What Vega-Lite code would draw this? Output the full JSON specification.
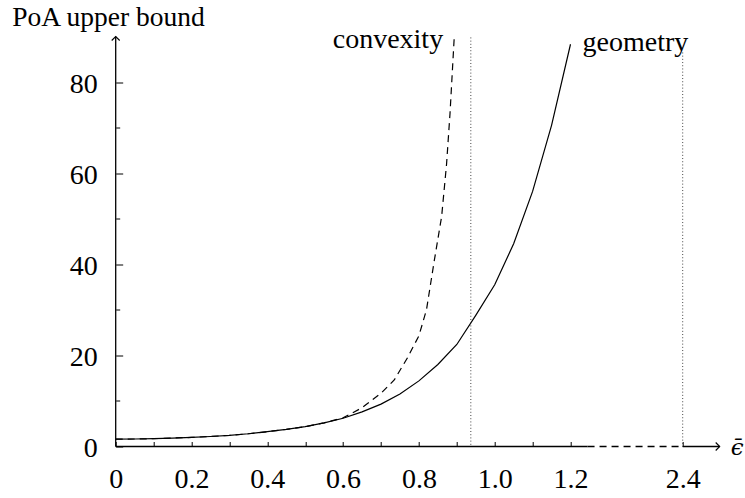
{
  "$schema": "https://vega.github.io/schema/vega-lite/v6.json",
  "width": 604,
  "height": 410,
  "autosize": {"type": "none"},
  "padding": {"left": 115.7, "top": 36.5, "right": 25.3, "bottom": 51.5},
  "background": "white",
  "config": {
    "view": {"stroke": null},
    "font": "'Liberation Serif', 'Times New Roman', 'DejaVu Serif', serif",
    "text": {"font": "'Liberation Serif', 'Times New Roman', 'DejaVu Serif', serif", "fontSize": 28, "color": "black"}
  },
  "datasets": {
    "geometry": [
      {"eps": 0.0, "bound": 1.6},
      {"eps": 0.05, "bound": 1.65},
      {"eps": 0.1, "bound": 1.72},
      {"eps": 0.15, "bound": 1.85},
      {"eps": 0.2, "bound": 2.0},
      {"eps": 0.25, "bound": 2.2},
      {"eps": 0.3, "bound": 2.45},
      {"eps": 0.35, "bound": 2.8},
      {"eps": 0.4, "bound": 3.25},
      {"eps": 0.45, "bound": 3.75},
      {"eps": 0.5, "bound": 4.35},
      {"eps": 0.55, "bound": 5.2},
      {"eps": 0.6, "bound": 6.2},
      {"eps": 0.65, "bound": 7.6},
      {"eps": 0.7, "bound": 9.3},
      {"eps": 0.75, "bound": 11.5},
      {"eps": 0.8, "bound": 14.4},
      {"eps": 0.85, "bound": 18.0},
      {"eps": 0.9, "bound": 22.4},
      {"eps": 0.95, "bound": 28.8},
      {"eps": 1.0, "bound": 35.5},
      {"eps": 1.05, "bound": 44.5},
      {"eps": 1.1, "bound": 56.0},
      {"eps": 1.15, "bound": 70.5},
      {"eps": 1.2, "bound": 88.3}
    ],
    "convexity": [
      {"eps": 0.0, "bound": 1.6},
      {"eps": 0.05, "bound": 1.65},
      {"eps": 0.1, "bound": 1.72},
      {"eps": 0.15, "bound": 1.85},
      {"eps": 0.2, "bound": 2.0},
      {"eps": 0.25, "bound": 2.2},
      {"eps": 0.3, "bound": 2.45},
      {"eps": 0.35, "bound": 2.8},
      {"eps": 0.4, "bound": 3.25},
      {"eps": 0.45, "bound": 3.75},
      {"eps": 0.5, "bound": 4.35},
      {"eps": 0.55, "bound": 5.2},
      {"eps": 0.6, "bound": 6.3},
      {"eps": 0.65, "bound": 8.5},
      {"eps": 0.7, "bound": 11.7},
      {"eps": 0.735, "bound": 14.6},
      {"eps": 0.77, "bound": 19.5},
      {"eps": 0.8, "bound": 24.3},
      {"eps": 0.82, "bound": 30.0},
      {"eps": 0.84, "bound": 40.5},
      {"eps": 0.86, "bound": 50.5},
      {"eps": 0.873, "bound": 62.0},
      {"eps": 0.882, "bound": 73.0},
      {"eps": 0.893, "bound": 89.5}
    ],
    "thresholds": [
      {"eps": 0.937, "bound": 89.8},
      {"eps": 2.4, "bound": 86.5}
    ],
    "x_axis_solid": [
      {"eps": 0, "eps_end": 1.245},
      {"eps": 2.4, "eps_end": 2.5}
    ],
    "x_axis_break": [
      {"eps": 1.245, "eps_end": 2.4}
    ],
    "y_axis_line": [
      {"eps": 0, "bound": 0, "bound_end": 90}
    ],
    "y_tip": [{"eps": 0, "bound": 90}],
    "x_tip": [{"eps": 2.5, "bound": 0}],
    "curve_names": [
      {"name": "convexity", "eps": 0.893, "bound": 89.5},
      {"name": "geometry", "eps": 1.2, "bound": 88.3}
    ]
  },
  "layer": [
    {
      "data": {"name": "geometry"},
      "mark": {"type": "line", "color": "black", "strokeWidth": 1.2},
      "encoding": {
        "x": {
          "field": "eps",
          "type": "quantitative",
          "scale": {"domain": [0, 1.25, 2.4, 2.5], "range": [0, 473.75, 567, 604], "nice": false, "zero": false},
          "axis": {
            "title": null,
            "values": [0, 0.1, 0.2, 0.3, 0.4, 0.5, 0.6, 0.7, 0.8, 0.9, 1.0, 1.1, 1.2, 2.4],
            "domain": false,
            "grid": false,
            "tickSize": -5,
            "tickColor": "black",
            "tickWidth": 1,
            "labelExpr": "datum.value == 0 ? '0' : (round(datum.value * 10) % 2 == 0 ? format(datum.value, '.1f') : '')",
            "labelFont": "'Liberation Serif', 'Times New Roman', 'DejaVu Serif', serif",
            "labelFontSize": 28,
            "labelColor": "black",
            "labelPadding": 23.7,
            "labelFlush": false,
            "labelOverlap": false
          }
        },
        "y": {
          "field": "bound",
          "type": "quantitative",
          "scale": {"domain": [0, 90], "nice": false, "zero": true},
          "axis": {
            "title": "PoA upper bound",
            "titleAngle": 0,
            "titleAlign": "left",
            "titleBaseline": "alphabetic",
            "titleX": -104,
            "titleY": -11.5,
            "titleFont": "'Liberation Serif', 'Times New Roman', 'DejaVu Serif', serif",
            "titleFontSize": 27.5,
            "titleFontWeight": "normal",
            "titleColor": "black",
            "values": [0, 10, 20, 30, 40, 50, 60, 70, 80],
            "domain": false,
            "grid": false,
            "tickSize": {"condition": {"test": "datum.value % 20 == 0", "value": -7}, "value": -4},
            "tickColor": "black",
            "tickWidth": 1,
            "labelExpr": "datum.value % 20 == 0 ? datum.label : ''",
            "labelFont": "'Liberation Serif', 'Times New Roman', 'DejaVu Serif', serif",
            "labelFontSize": 28,
            "labelColor": "black",
            "labelPadding": 25.4,
            "labelOffset": 2,
            "labelFlush": false,
            "labelOverlap": false
          }
        }
      }
    },
    {
      "data": {"name": "convexity"},
      "mark": {"type": "line", "color": "black", "strokeWidth": 1.2, "strokeDash": [7, 5]},
      "encoding": {
        "x": {"field": "eps", "type": "quantitative"},
        "y": {"field": "bound", "type": "quantitative"}
      }
    },
    {
      "data": {"name": "thresholds"},
      "mark": {"type": "rule", "color": "#444", "strokeWidth": 1, "strokeDash": [1, 2.2]},
      "encoding": {
        "x": {"field": "eps", "type": "quantitative"},
        "y": {"field": "bound", "type": "quantitative"},
        "y2": {"datum": 0}
      }
    },
    {
      "data": {"name": "x_axis_solid"},
      "mark": {"type": "rule", "color": "black", "strokeWidth": 1.3},
      "encoding": {
        "x": {"field": "eps", "type": "quantitative"},
        "x2": {"field": "eps_end"},
        "y": {"datum": 0, "type": "quantitative"}
      }
    },
    {
      "data": {"name": "x_axis_break"},
      "mark": {"type": "rule", "color": "black", "strokeWidth": 1.3, "strokeDash": [7, 5]},
      "encoding": {
        "x": {"field": "eps", "type": "quantitative"},
        "x2": {"field": "eps_end"},
        "y": {"datum": 0, "type": "quantitative"}
      }
    },
    {
      "data": {"name": "y_axis_line"},
      "mark": {"type": "rule", "color": "black", "strokeWidth": 1.3},
      "encoding": {
        "x": {"field": "eps", "type": "quantitative"},
        "y": {"field": "bound", "type": "quantitative"},
        "y2": {"field": "bound_end"}
      }
    },
    {
      "data": {"name": "y_tip"},
      "mark": {"type": "point", "shape": "M-1,1L0,0L1,1", "filled": false, "stroke": "black", "strokeWidth": 1.1, "size": 64, "opacity": 1},
      "encoding": {
        "x": {"field": "eps", "type": "quantitative"},
        "y": {"field": "bound", "type": "quantitative"}
      }
    },
    {
      "data": {"name": "x_tip"},
      "mark": {"type": "point", "shape": "M-1,-1L0,0L-1,1", "filled": false, "stroke": "black", "strokeWidth": 1.1, "size": 64, "opacity": 1},
      "encoding": {
        "x": {"field": "eps", "type": "quantitative"},
        "y": {"field": "bound", "type": "quantitative"}
      }
    },
    {
      "data": {"name": "x_tip"},
      "mark": {"type": "text", "text": "ϵ̄", "font": "'DejaVu Serif', serif", "fontStyle": "italic", "fontSize": 23, "align": "left", "baseline": "alphabetic", "dx": 11, "dy": 8.5, "color": "black"},
      "encoding": {
        "x": {"field": "eps", "type": "quantitative"},
        "y": {"field": "bound", "type": "quantitative"}
      }
    },
    {
      "data": {"name": "curve_names"},
      "transform": [{"filter": "datum.name == 'convexity'"}],
      "mark": {"type": "text", "align": "right", "baseline": "alphabetic", "dx": -11, "dy": 9},
      "encoding": {
        "x": {"field": "eps", "type": "quantitative"},
        "y": {"field": "bound", "type": "quantitative"},
        "text": {"field": "name"}
      }
    },
    {
      "data": {"name": "curve_names"},
      "transform": [{"filter": "datum.name == 'geometry'"}],
      "mark": {"type": "text", "align": "left", "baseline": "alphabetic", "dx": 12, "dy": 6.7},
      "encoding": {
        "x": {"field": "eps", "type": "quantitative"},
        "y": {"field": "bound", "type": "quantitative"},
        "text": {"field": "name"}
      }
    }
  ]
}
